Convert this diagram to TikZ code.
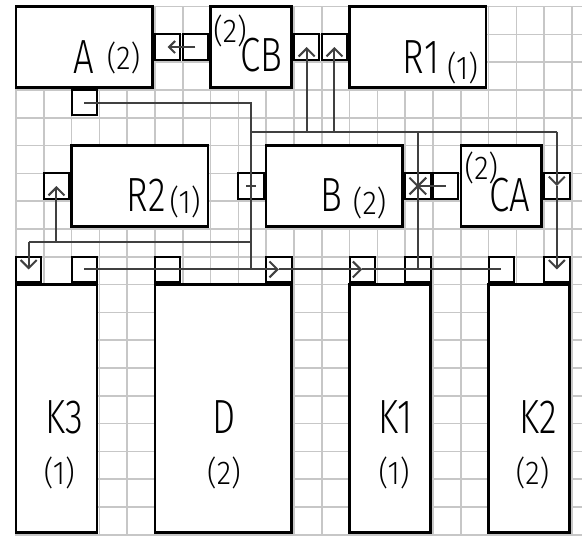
\documentclass[tikz,border=0pt]{standalone}
\usepackage{fontspec}
\setmainfont{Liberation Sans}
\newfontfamily\narrowfont[FakeStretch=0.76]{Fira Sans Light}
\newfontfamily\numfont[FakeStretch=0.9]{Fira Sans Light}
\usetikzlibrary{arrows.meta}
\tikzset{
  gridline/.style={draw=black!22, line width=0.75pt},
  blk/.style={draw, fill=white, line width=1.25pt, inner sep=0pt},
  port/.style={draw, fill=white, line width=1pt, inner sep=0pt, minimum size=12.65pt},
  wire/.style={draw=black!75, line width=1pt},
  tag/.style={inner sep=0pt, font=\narrowfont\fontsize{24}{24}\selectfont},
  num/.style={inner sep=0pt, font=\numfont\fontsize{16.5}{16.5}\selectfont},
  >={Straight Barb[length=4pt,width=8pt]}
}
\begin{document}
\begin{tikzpicture}[x=13.9pt,y=-13.9pt]
\useasboundingbox[fill=white] (-0.576,-0.237) rectangle (20.36,19.04);
% grid
\foreach \i in {0,...,20} \draw[gridline] (\i,0) -- (\i,19.04);
\foreach \j in {0,...,19} \draw[gridline] (0,\j) -- (20.36,\j);
% blocks: name/left/top/right/bottom in cells
\foreach \n/\a/\b/\c/\d in {A/0/0/5/3, CB/7/0/10/3, R1/12/0/17/3,
  R2/2/5/7/8, B/9/5/14/8, CA/16/5/19/8,
  K3/0/10/3/19, D/5/10/10/19, K1/12/10/15/19, K2/17/10/20/19}
  \node[blk, minimum width={(\c-\a-0.09)*13.9pt}, minimum height={(\d-\b-0.09)*13.9pt}]
    (\n) at ({(\a+\c-0.09)/2},{(\b+\d-0.09)/2}) {};
% ports
\foreach \n/\i/\j in {Ae/5/1, As/2/3, CBw/6/1, CBe1/10/1, CBe2/11/1,
  R2w/1/6, Bw/8/6, Be/14/6, CAw/15/6, CAe/19/6,
  K3a/0/9, K3b/2/9, Da/5/9, Db/9/9, K1a/12/9, K1b/14/9, K2a/17/9, K2b/19/9}
  \node[port] (\n) at (\i+0.455,\j+0.455) {};
% labels
\node[tag] (A-t) at (2.43,1.80) {A};   \node[num] (A-n) at (3.87,1.83) {(2)};
\node[num] (CB-n) at (7.70,0.86) {(2)}; \node[tag] (CB-t) at (8.83,1.76) {CB};
\node[tag] (R1-t) at (14.57,1.80) {R1}; \node[num] (R1-n) at (16.06,2.19) {(1)};
\node[tag] (R2-t) at (4.68,6.79) {R2};  \node[num] (R2-n) at (6.08,7.01) {(1)};
\node[tag] (B-t) at (11.33,6.78) {B};   \node[num] (B-n) at (12.72,7.06) {(2)};
\node[num] (CA-n) at (16.74,5.79) {(2)}; \node[tag] (CA-t) at (17.77,6.79) {CA};
\node[tag] (K3-t) at (1.73,14.78) {K3}; \node[num] (K3-n) at (1.56,16.76) {(1)};
\node[tag] (D-t) at (7.48,14.78) {D};   \node[num] (D-n) at (7.48,16.76) {(2)};
\node[tag] (K1-t) at (13.65,14.78) {K1}; \node[num] (K1-n) at (13.60,16.76) {(1)};
\node[tag] (K2-t) at (18.78,14.78) {K2}; \node[num] (K2-n) at (18.58,16.76) {(2)};
% wires
\coordinate (top) at (0,4.5);
\coordinate (mid) at (0,8.47);
\draw[wire,->,>={Straight Barb[length=3pt,width=6pt]}] (CBw.center) -- (Ae.center);
\draw[wire] (As.center) -| (Bw.center) -- (Bw.center |- K3b.center);
\draw[wire] (Bw.center |- top) -- (CAe.center |- top);
\draw[wire,->] (CBe1.center |- top) -- (CBe1.center);
\draw[wire,->] (CBe2.center |- top) -- (CBe2.center);
\draw[wire,->] (CAe.center |- top) -- (CAe.center);
\draw[wire,->] (CAe.center) -- (K2b.center);
\draw[wire] (Be.center |- top) -- (K1b.center);
\draw[wire] (Be.center) -- (CAw.center);
\draw[wire] (Bw.center |- mid) -- (K3a.center |- mid);
\draw[wire,->] (K3a.center |- mid) -- (K3a.center);
\draw[wire,->] (R2w.center |- mid) -- (R2w.center);
\draw[wire,->] (K3b.center) -- (Db.center);
\draw[wire,->] (Db.center) -- (K1a.center);
\draw[wire] (K1a.center) -- (K2a.center);
% port marks
\draw[wire] ([shift={(-0.3,-0.3)}]Be.center) -- ([shift={(0.3,0.3)}]Be.center);
\draw[wire] ([shift={(-0.3,0.3)}]Be.center) -- ([shift={(0.3,-0.3)}]Be.center);
\draw[wire] ([shift={(-0.18,0)}]Bw.center) -- ([shift={(0.18,0)}]Bw.center);
\end{tikzpicture}
\end{document}
